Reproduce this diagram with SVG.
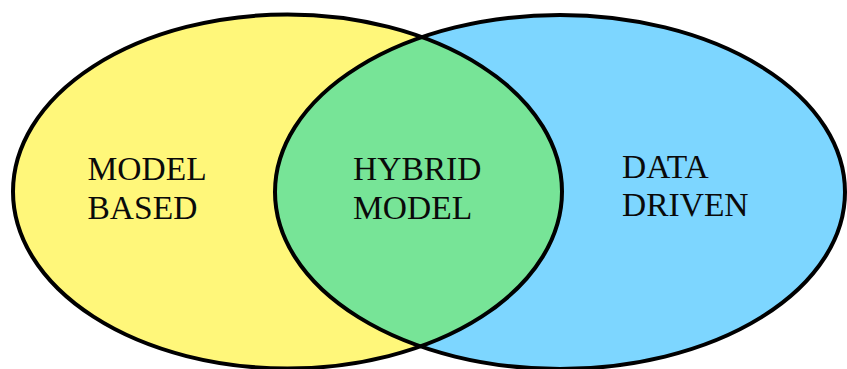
<svg xmlns="http://www.w3.org/2000/svg" width="847" height="369" viewBox="0 0 847 369">
<style>
.lbl{font-family:"Liberation Serif","Times New Roman",serif;font-size:33.5px;fill:#0a0a0a}
.edge{fill:none;stroke:#000;stroke-width:4}
</style>
<defs>
<clipPath id="clipL"><ellipse cx="287.5" cy="191.5" rx="274.5" ry="177"/></clipPath>
</defs>
<rect width="847" height="369" fill="#fff"/>
<g id="model-based">
<ellipse cx="287.5" cy="191.5" rx="274.5" ry="177" fill="#FFF77A"/>
</g>
<g id="data-driven">
<ellipse cx="560" cy="192" rx="285" ry="177" fill="#7DD6FF"/>
</g>
<g id="hybrid-model">
<ellipse cx="560" cy="192" rx="285" ry="177" fill="#77E497" clip-path="url(#clipL)"/>
</g>
<g id="outlines">
<ellipse class="edge" cx="287.5" cy="191.5" rx="274.5" ry="177"/>
<ellipse class="edge" cx="560" cy="192" rx="285" ry="177"/>
</g>
<g id="labels">
<text class="lbl" x="87.5" y="180">MODEL</text>
<text class="lbl" x="87.5" y="219">BASED</text>
<text class="lbl" x="353" y="180">HYBRID</text>
<text class="lbl" x="353" y="219">MODEL</text>
<text class="lbl" x="622" y="178">DATA</text>
<text class="lbl" x="622" y="216">DRIVEN</text>
</g>
</svg>
